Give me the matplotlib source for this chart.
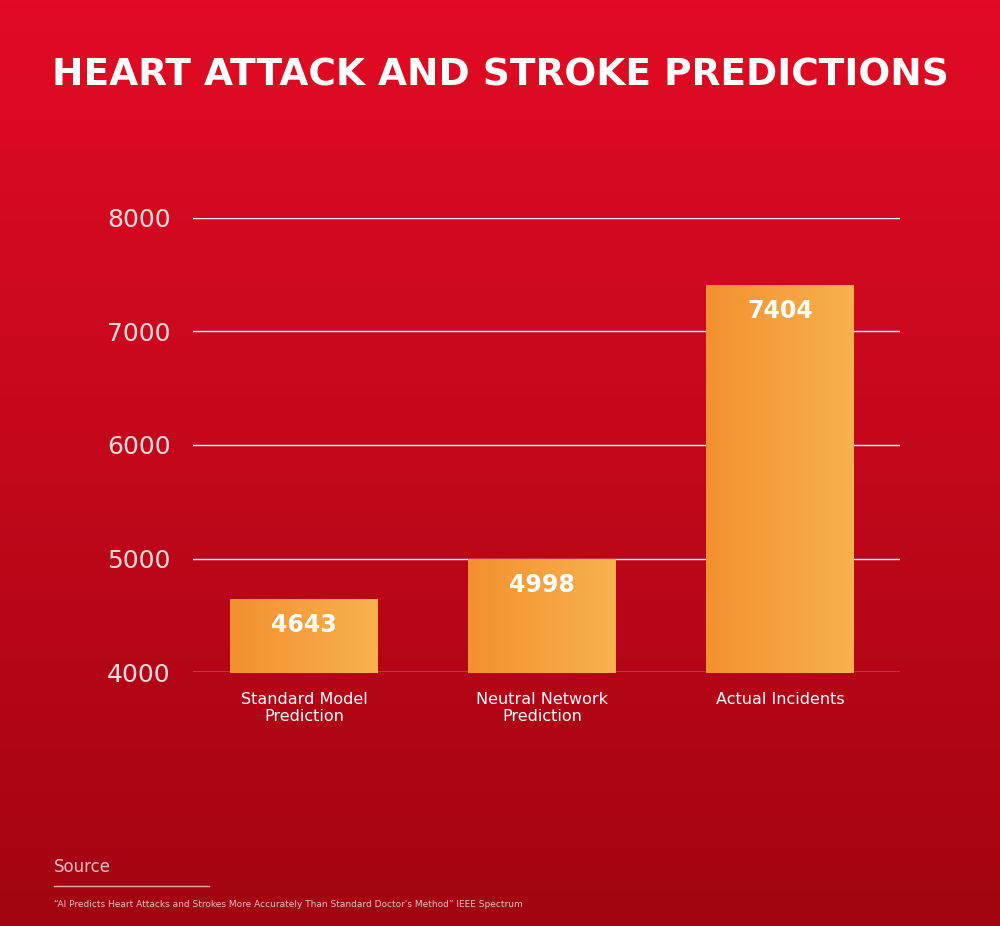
import numpy as np
import matplotlib.pyplot as plt
from matplotlib.colors import LinearSegmentedColormap

categories = ["Standard Model\nPrediction", "Neutral Network\nPrediction", "Actual Incidents"]
values = [4643, 4998, 7404]
yticks = [4000, 5000, 6000, 7000, 8000]

fig = plt.figure(figsize=(10, 9.26), dpi=100)

# background gradient
bg = fig.add_axes([0, 0, 1, 1])
bg_cmap = LinearSegmentedColormap.from_list("bg", ["#a30412", "#e20b23"])
bg.imshow(np.linspace(0, 1, 256).reshape(-1, 1), aspect="auto", cmap=bg_cmap,
          origin="lower", extent=[0, 1, 0, 1])
bg.axis("off")

ax = fig.add_axes([0.193, 0.274, 0.707, 0.491])
ax.set_facecolor("none")
ax.set_xlim(-0.466, 2.504)
ax.set_ylim(4000, 8000)

bar_cmap = LinearSegmentedColormap.from_list("bar", ["#f39030", "#f8b24e"])
x = np.arange(len(values))
bars = ax.bar(x, values, width=0.62, bottom=3990, color="none", zorder=3)
grad = np.linspace(0, 1, 256).reshape(1, -1)
for b, v in zip(bars, values):
    b.set_height(v - 3990)
    x0, w = b.get_x(), b.get_width()
    im = ax.imshow(grad, aspect="auto", cmap=bar_cmap, zorder=3,
                   extent=[x0, x0 + w, 3990, v])
    im.set_clip_path(b)
    ax.text(b.get_x() + w / 2, v - 230, str(v), ha="center", va="center",
            color="white", fontsize=17, fontweight="bold", zorder=4)
ax.set_xlim(-0.466, 2.504)
ax.set_ylim(4000, 8000)

ax.set_yticks(yticks)
ax.set_yticklabels([str(t) for t in yticks], color="#f6dcdc", fontsize=18)
ax.grid(axis="y", color="white", linewidth=1, zorder=1)
ax.set_axisbelow(True)
ax.tick_params(axis="y", length=0, pad=16)
ax.tick_params(axis="x", length=0, pad=14)
ax.set_xticks(x)
ax.set_xticklabels(categories, color="white", fontsize=11.5)
for s in ax.spines.values():
    s.set_visible(False)

fig.text(0.5, 0.918, "HEART ATTACK AND STROKE PREDICTIONS", ha="center", va="center",
         color="white", fontsize=27, fontweight="bold", family="DejaVu Sans")
fig.text(0.054, 0.058, "Source", color="#e8c0c4", fontsize=12)
fig.add_artist(plt.Line2D([0.054, 0.209], [0.043, 0.043], color="#e8a8ae", linewidth=1))
fig.text(0.054, 0.021, "\u201cAI Predicts Heart Attacks and Strokes More Accurately Than Standard Doctor's Method\u201d IEEE Spectrum",
         color="#e8c0c4", fontsize=6.5)

fig.savefig("out.png", dpi=100)
